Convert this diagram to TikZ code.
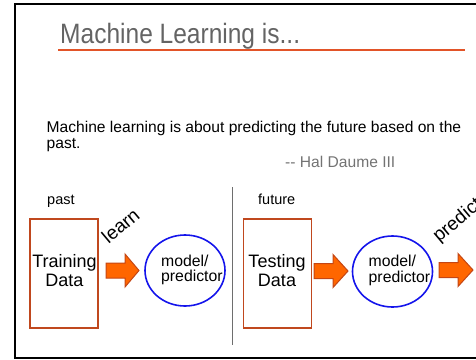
\documentclass[tikz,border=0pt]{standalone}
\usepackage{fontspec}
\setmainfont{Liberation Sans}
\usetikzlibrary{shapes.geometric}
\definecolor{titlegray}{RGB}{100,100,100}
\definecolor{quotegray}{RGB}{115,115,115}
\definecolor{rulered}{RGB}{226,84,40}
\definecolor{boxbrown}{RGB}{192,72,30}
\definecolor{arrowfill}{RGB}{255,102,0}
\definecolor{arrowedge}{RGB}{196,70,20}
\definecolor{ellblue}{RGB}{20,20,235}
\definecolor{divgray}{RGB}{110,110,110}
\tikzset{
  txt/.style={inner sep=0pt, anchor=base west},
  databox/.style={draw=boxbrown, line width=1.5pt, minimum width=68pt, minimum height=109pt, inner sep=0pt},
  modelell/.style={ellipse, draw=ellblue, line width=1.6pt, minimum width=80pt, minimum height=71pt, inner sep=0pt},
  blockarr/.style={fill=arrowfill, draw=arrowedge, line width=1pt, line join=miter},
  bigtxt/.style={inner sep=0pt, anchor=base, font=\fontsize{18}{19}\selectfont},
  midtxt/.style={inner sep=0pt, anchor=base west, font=\fontsize{15.8}{16}\selectfont},
  slanttxt/.style={inner sep=0pt, anchor=base west, rotate=40, font=\fontsize{19}{19}\selectfont},
}
\newcommand{\blockarrow}[4]{% tail x, head base x, tip x, center y
  \draw[blockarr] (#1,#4-7.5) -- (#2,#4-7.5) -- (#2,#4-16.5) -- (#3,#4) -- (#2,#4+16.5) -- (#2,#4+7.5) -- (#1,#4+7.5) -- cycle;}
\begin{document}
\begin{tikzpicture}[x=1pt,y=-1pt]
\useasboundingbox (0,0) rectangle (476,359);
\clip (0,0) rectangle (476,359);
% frame
\draw[line width=2pt] (478,4) -- (15,4) -- (15,357.5) -- (478,357.5);
% title
\node[txt, text=titlegray, font=\fontsize{28}{30}\selectfont] (title) at (60,43.3) {\scalebox{0.876}[1]{Machine Learning is...}};
\draw[rulered, line width=1.4pt] (58,50) -- (465,50);
% quote
\node[txt, font=\fontsize{15.6}{16}\selectfont] (q1) at (46.5,132.5) {Machine learning is about predicting the future based on the};
\node[txt, font=\fontsize{15.6}{16}\selectfont] (q2) at (46.5,148) {past.};
\node[txt, text=quotegray, font=\fontsize{15.6}{16}\selectfont] (q3) at (285,167) {{-}{-} Hal Daume III};
% labels
\node[midtxt, font=\fontsize{14.5}{15}\selectfont] (past) at (47,204) {past};
\node[midtxt, font=\fontsize{14.5}{15}\selectfont] (future) at (258,204) {future};
% left
\node[databox] (train) at (64,273.5) {};
\node[bigtxt] (trainA) at (64.5,267) {Training};
\node[bigtxt] (trainB) at (64.5,286.5) {Data};
\blockarrow{106}{125}{139}{270.5}
\node[slanttxt] (learn) at (108.5,244.5) {learn};
\node[modelell] (model1) at (185,270.5) {};
\node[midtxt] (m1a) at (161,266) {model/};
\node[midtxt] (m1b) at (161,281.5) {predictor};
% divider
\draw[divgray, line width=1pt] (232,187) -- (232,345);
% right
\node[databox] (test) at (277.5,273.5) {};
\node[bigtxt] (testA) at (277,267) {Testing};
\node[bigtxt] (testB) at (277,286.5) {Data};
\blockarrow{314}{333}{348}{271}
\node[modelell] (model2) at (392.5,271.5) {};
\node[midtxt] (m2a) at (368.5,266.5) {model/};
\node[midtxt] (m2b) at (368.5,282.5) {predictor};
\blockarrow{439}{458}{473}{270}
\node[slanttxt] (predict) at (439,243) {predict};
\end{tikzpicture}
\end{document}
